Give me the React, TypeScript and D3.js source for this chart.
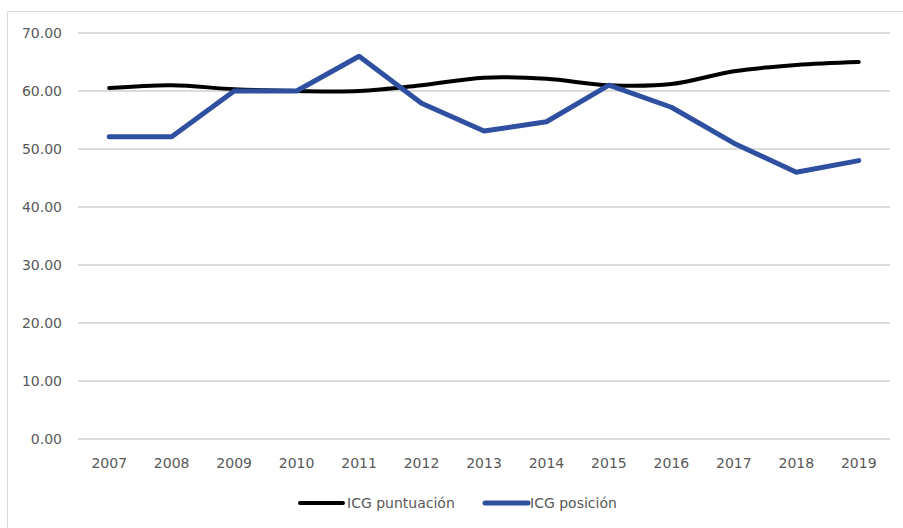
import { useMemo } from 'react'
import * as d3 from 'd3'

const WIDTH = 903
const HEIGHT = 528
const MARGIN = { top: 33, right: 13, bottom: 89, left: 78 }

const YEARS = ['2007', '2008', '2009', '2010', '2011', '2012', '2013', '2014', '2015', '2016', '2017', '2018', '2019']
const PUNTUACION = [60.5, 61.0, 60.3, 60.0, 60.0, 61.0, 62.3, 62.1, 61.0, 61.2, 63.4, 64.5, 65.0]
const POSICION = [52.1, 52.1, 60.0, 60.0, 66.0, 57.9, 53.1, 54.7, 61.0, 57.2, 51.0, 46.0, 48.0]
const Y_TICKS = [0, 10, 20, 30, 40, 50, 60, 70]

const SERIES = [
  { name: 'ICG puntuación', values: PUNTUACION, color: '#000000', width: 4, smooth: true },
  { name: 'ICG posición', values: POSICION, color: '#2F4FA0', width: 5, smooth: false }
]

const FONT = '"DejaVu Sans", Verdana, sans-serif'

export default function App() {
  const innerW = WIDTH - MARGIN.left - MARGIN.right
  const innerH = HEIGHT - MARGIN.top - MARGIN.bottom

  const x = useMemo(() => d3.scaleBand().domain(YEARS).range([0, innerW]), [innerW])
  const y = useMemo(() => d3.scaleLinear().domain([0, 70]).range([innerH, 0]), [innerH])

  const px = (i: number) => (x(YEARS[i]) ?? 0) + x.bandwidth() / 2

  // legend layout
  const legend = [
    { x: 300, textX: 347 },
    { x: 485, textX: 530 }
  ]

  return (
    <div style={{ position: 'absolute', left: 0, top: 0 }}>
      <svg width={WIDTH} height={HEIGHT} style={{ display: 'block', background: '#fff' }}>
        {/* chart frame */}
        <path d={`M7.5,${HEIGHT} V11.5 H${WIDTH}`} fill="none" stroke="#d9d9d9" strokeWidth={1} />

        <g transform={`translate(${MARGIN.left},${MARGIN.top})`}>
          {/* gridlines */}
          {Y_TICKS.map(t => (
            <line key={`g-${t}`} x1={0} x2={innerW} y1={y(t)} y2={y(t)} stroke="#d0d0d0" strokeWidth={1.3} />
          ))}

          {/* y labels */}
          {Y_TICKS.map(t => (
            <text
              key={`yl-${t}`}
              x={-16}
              y={y(t)}
              dy="0.36em"
              textAnchor="end"
              fontFamily={FONT}
              fontSize={14}
              fill="#595959"
            >
              {t.toFixed(2)}
            </text>
          ))}

          {/* x labels */}
          {YEARS.map((yr, i) => (
            <text
              key={`xl-${yr}`}
              x={px(i)}
              y={innerH + 29}
              textAnchor="middle"
              fontFamily={FONT}
              fontSize={14}
              fill="#595959"
            >
              {yr}
            </text>
          ))}

          {/* lines */}
          {SERIES.map(s => {
            const line = d3.line<number>()
              .x((_, i) => px(i))
              .y(d => y(d))
              .curve(s.smooth ? d3.curveCatmullRom.alpha(0.5) : d3.curveLinear)
            return (
              <path
                key={s.name}
                d={line(s.values) ?? ''}
                fill="none"
                stroke={s.color}
                strokeWidth={s.width}
                strokeLinejoin="round"
                strokeLinecap="round"
              />
            )
          })}
        </g>

        {/* legend */}
        {SERIES.map((s, i) => (
          <g key={`leg-${s.name}`}>
            <line
              x1={legend[i].x}
              x2={legend[i].x + 43}
              y1={503}
              y2={503}
              stroke={s.color}
              strokeWidth={s.width}
              strokeLinecap="round"
            />
            <text x={legend[i].textX} y={508} fontFamily={FONT} fontSize={14} fill="#595959">
              {s.name}
            </text>
          </g>
        ))}
      </svg>
    </div>
  )
}
